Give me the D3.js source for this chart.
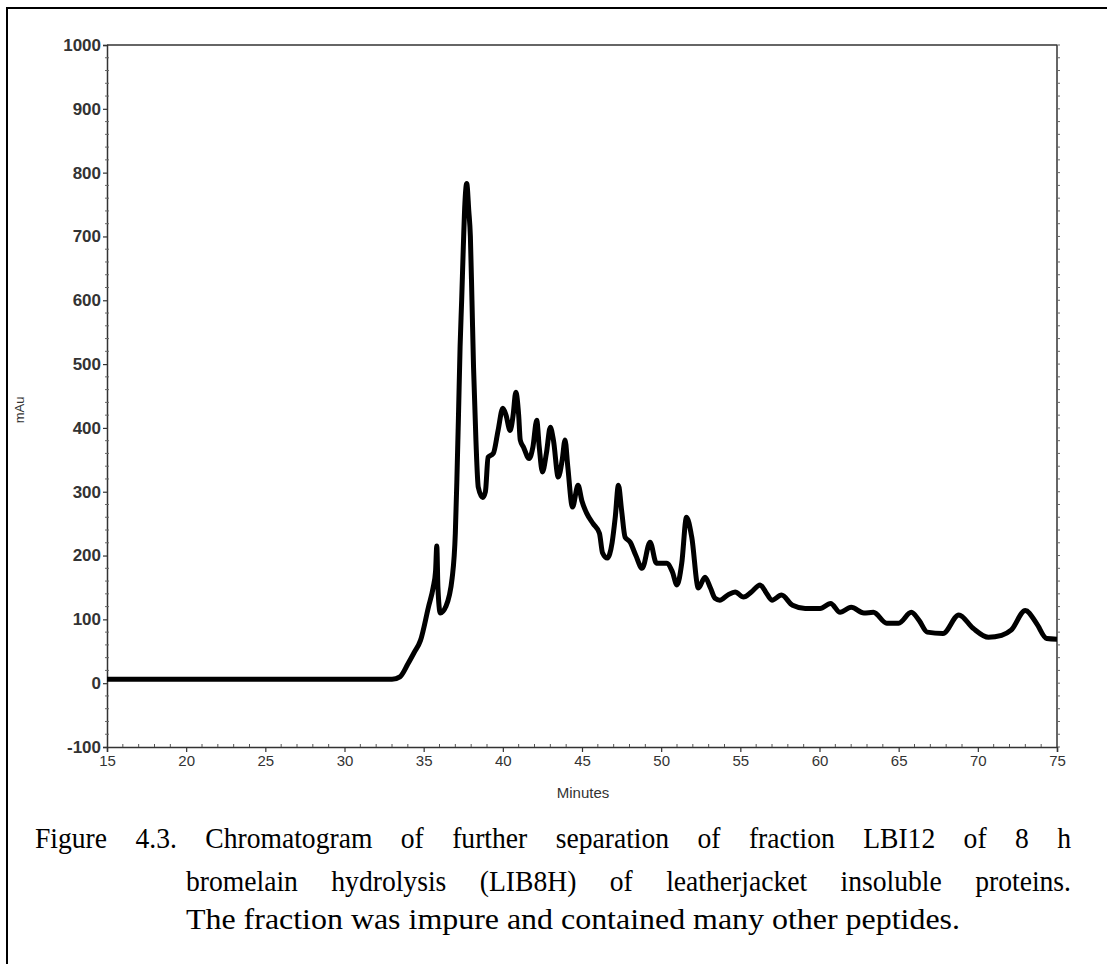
<!DOCTYPE html>
<html>
<head>
<meta charset="utf-8">
<script src="https://cdn.jsdelivr.net/npm/d3@7"></script>
<style>
  html, body { margin: 0; padding: 0; background: #fff; }
  svg { display: block; }
  .sans { font-family: "Liberation Sans", Arial, Helvetica, sans-serif; }
  .serif { font-family: "Liberation Serif", "Times New Roman", Times, serif; }
</style>
</head>
<body>
<svg id="chart" width="1107" height="964"></svg>
<script>
// ---- data ----
const minutes = [15, 33.0, 33.5, 34.0, 34.4, 34.8, 35.3, 35.6, 35.75, 35.83, 35.9, 36.05, 36.4, 36.8, 37.0, 37.1, 37.2, 37.3, 37.4, 37.5, 37.6, 37.72, 37.85, 37.95, 38.05, 38.15, 38.3, 38.45, 38.73, 38.9, 39.07, 39.4, 39.7, 40.0, 40.2, 40.46, 40.65, 40.82, 41.0, 41.1, 41.3, 41.66, 41.9, 42.14, 42.3, 42.5, 42.75, 43.0, 43.2, 43.5, 43.75, 43.93, 44.1, 44.4, 44.75, 45.0, 45.3, 45.7, 46.1, 46.3, 46.6, 46.9, 47.1, 47.3, 47.5, 47.72, 48.04, 48.4, 48.8, 49.3, 49.7, 50.35, 50.7, 51.0, 51.3, 51.6, 51.93, 52.35, 52.77, 53.1, 53.4, 53.7, 54.2, 54.67, 55.2, 55.7, 56.25, 56.6, 57.0, 57.6, 58.3, 59.1, 60.04, 60.7, 61.3, 62.0, 62.8, 63.4, 64.25, 65.0, 65.8, 66.3, 66.8, 67.8, 68.8, 69.7, 70.67, 71.5, 72.1, 73.0, 73.7, 74.35, 75.0];
const mAu = [6, 6, 10, 30, 48, 67, 119, 150, 175, 215, 150, 110, 120, 165, 235, 320, 420, 527, 600, 680, 750, 783, 740, 700, 600, 495, 381, 307, 291, 300, 354, 360, 396, 431, 420, 396, 420, 456, 420, 381, 370, 352, 370, 412, 370, 331, 360, 401, 380, 323, 350, 381, 340, 276, 310, 285, 266, 250, 235, 204, 196, 220, 260, 310, 271, 229, 221, 200, 180, 221, 188, 188, 175, 154, 188, 260, 229, 149, 166, 150, 133, 130, 138, 143, 135, 143, 154, 143, 130, 138, 122, 117, 117, 125, 111, 119, 110, 111, 94, 94, 111, 98, 80, 78, 107, 86, 72, 75, 83, 114, 94, 70, 69];
const xTicks = [15, 20, 25, 30, 35, 40, 45, 50, 55, 60, 65, 70, 75];
const yTicks = [-100, 0, 100, 200, 300, 400, 500, 600, 700, 800, 900, 1000];
const xTitle = "Minutes";
const yTitle = "mAu";
const captionLines = [
  "Figure 4.3. Chromatogram of further separation of fraction LBI12 of 8 h",
  "bromelain hydrolysis (LIB8H) of leatherjacket insoluble proteins.",
  "The fraction was impure and contained many other peptides."
];

// ---- layout ----
const svg = d3.select("#chart");
const L = 107, R = 1057, T = 45, B = 747;
const x = d3.scaleLinear().domain([15, 75]).range([L, R]);
const y = d3.scaleLinear().domain([-100, 1000]).range([B, T]);
const fmt = d => String(d);

// outer frame
svg.append("rect").attr("x", 7).attr("y", 8).attr("width", 1120).attr("height", 980)
  .attr("fill", "none").attr("stroke", "#000").attr("stroke-width", 2);

const axisColor = "#333";

// plot frame top & right
svg.append("line").attr("x1", L).attr("x2", R).attr("y1", T).attr("y2", T)
  .attr("stroke", axisColor).attr("stroke-width", 1.5);
svg.append("line").attr("x1", R).attr("x2", R).attr("y1", T).attr("y2", B)
  .attr("stroke", axisColor).attr("stroke-width", 1.5);

// y axis (left)
const yAxis = d3.axisLeft(y).tickValues(yTicks).tickSize(4).tickPadding(2).tickFormat(fmt);
const gy = svg.append("g").attr("transform", `translate(${L},0)`).call(yAxis);
gy.attr("font-family", null).attr("font-size", null);
gy.select(".domain").attr("stroke", axisColor).attr("stroke-width", 1.5);
gy.selectAll(".tick line").attr("stroke", axisColor).attr("stroke-width", 1.2);
gy.selectAll(".tick text").attr("class", "sans").attr("font-size", 17)
  .attr("font-weight", "bold").attr("fill", "#333");

// y minor ticks left & right
const yMinor = d3.range(-100, 1001, 20).filter(v => v % 100 !== 0);
svg.append("g").selectAll("line").data(yMinor).join("line")
  .attr("x1", L - 2).attr("x2", L + 2).attr("y1", d => y(d)).attr("y2", d => y(d))
  .attr("stroke", "#666").attr("stroke-width", 1);
svg.append("g").selectAll("line").data(d3.range(-100, 1001, 20)).join("line")
  .attr("x1", R).attr("x2", R + 3).attr("y1", d => y(d)).attr("y2", d => y(d))
  .attr("stroke", "#666").attr("stroke-width", 1);

// x axis (bottom)
const xAxis = d3.axisBottom(x).tickValues(xTicks).tickSize(5).tickPadding(3).tickFormat(fmt);
const gx = svg.append("g").attr("transform", `translate(0,${B})`).call(xAxis);
gx.attr("font-family", null).attr("font-size", null);
gx.select(".domain").attr("stroke", axisColor).attr("stroke-width", 1.5);
gx.selectAll(".tick line").attr("stroke", axisColor).attr("stroke-width", 1.2);
gx.selectAll(".tick text").attr("class", "sans").attr("font-size", 15)
  .attr("fill", "#333");

// x minor ticks
const xMinor = d3.range(16, 75, 1).filter(v => v % 5 !== 0);
svg.append("g").selectAll("line").data(xMinor).join("line")
  .attr("x1", d => x(d)).attr("x2", d => x(d)).attr("y1", B - 3).attr("y2", B)
  .attr("stroke", "#555").attr("stroke-width", 1);

// axis titles
svg.append("text").attr("class", "sans").attr("x", (L + R) / 2 + 1).attr("y", 798)
  .attr("text-anchor", "middle").attr("font-size", 15).attr("fill", "#333").text(xTitle);
svg.append("text").attr("class", "sans").attr("transform", `translate(24,${(T + B) / 2 + 14}) rotate(-90)`)
  .attr("text-anchor", "middle").attr("font-size", 13).attr("fill", "#333").text(yTitle);

// trace
const pts = minutes.map((m, i) => [m, mAu[i]]);
const line = d3.line().x(d => x(d[0])).y(d => y(d[1])).curve(d3.curveMonotoneX);
svg.append("path").datum(pts).attr("d", line).attr("fill", "none")
  .attr("stroke", "#000").attr("stroke-width", 5).attr("stroke-linejoin", "round")
  .attr("stroke-linecap", "butt");

// caption (justified serif text, slightly condensed glyphs)
const capSize = 30;
const squeeze = 0.92;
function justifyLine(str, x0, x1, yb) {
  const words = str.split(" ");
  const g = svg.append("g");
  const nodes = words.map(w => g.append("text").attr("class", "serif").attr("y", yb)
    .attr("font-size", capSize).attr("fill", "#000").text(w));
  const widths = nodes.map(n => n.node().getComputedTextLength() * squeeze);
  nodes.forEach((n, i) => n.attr("textLength", widths[i]).attr("lengthAdjust", "spacingAndGlyphs"));
  const total = d3.sum(widths);
  const gap = (x1 - x0 - total) / (words.length - 1);
  let cx = x0;
  nodes.forEach((n, i) => { n.attr("x", cx); cx += widths[i] + gap; });
}
justifyLine(captionLines[0], 35, 1071, 848);
justifyLine(captionLines[1], 186, 1071, 891);
svg.append("text").attr("class", "serif").attr("x", 186).attr("y", 929)
  .attr("font-size", capSize).attr("fill", "#000")
  .attr("textLength", 774).attr("lengthAdjust", "spacingAndGlyphs").text(captionLines[2]);
</script>
</body>
</html>
